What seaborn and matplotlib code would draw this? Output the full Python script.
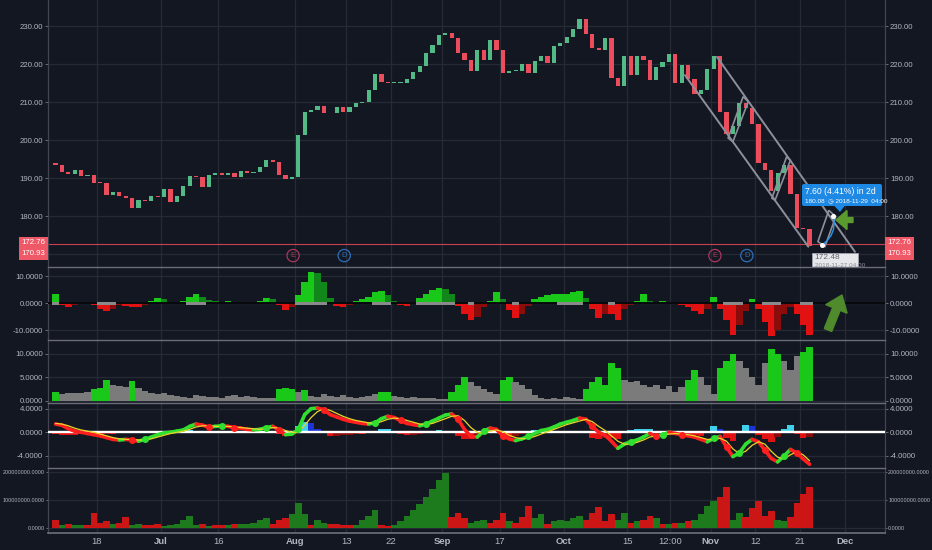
import numpy as np
import pandas as pd
import matplotlib
matplotlib.use('Agg')
import matplotlib.pyplot as plt
import matplotlib.transforms as mtransforms
from matplotlib.collections import LineCollection
from matplotlib.patches import Rectangle, Polygon, FancyArrow, FancyBboxPatch
from matplotlib.ticker import FuncFormatter
import seaborn as sns

# trading days (hourly chart shown as one bar per session)
holidays = pd.to_datetime(['2018-07-04', '2018-09-03', '2018-11-22'])
days = pd.bdate_range('2018-06-07', '2018-12-07')
days = days[~days.isin(holidays)]

# daily closes
closes = [193.46, 191.70, 191.23, 192.28, 190.70, 190.80, 188.84,
          188.74, 185.69, 186.50, 185.46, 184.92,
          182.17, 184.43, 184.16, 185.50, 185.11,
          187.18, 183.92, 185.40, 187.97,
          190.58, 190.35, 187.88, 191.03, 191.33,
          190.91, 191.45, 190.40, 191.88, 191.44,
          191.61, 193.00, 194.82, 194.21, 190.98,
          189.91, 190.29,
          201.50, 207.39, 207.99,
          209.07, 207.11, 207.25, 208.88, 207.53,
          208.87, 209.75, 210.24, 213.32, 217.58,
          215.46, 215.04, 215.05, 215.19, 216.16,
          217.94, 219.70, 222.98, 225.03, 227.63,
          228.36, 226.87, 223.10, 221.30,
          218.33, 223.85, 221.07, 226.41, 223.84,
          217.88, 218.24, 218.37, 220.03, 217.66,
          220.79, 222.19, 220.42, 224.95, 225.74,
          227.26, 229.28, 232.07, 227.99, 224.29,
          223.77, 226.87, 216.36, 214.45, 222.11,
          217.36, 222.15, 221.19, 216.02, 219.31,
          220.65, 222.73, 215.09, 219.80, 216.30,
          212.24, 213.30, 218.86,
          222.22, 207.48,
          201.59, 203.77, 209.95, 208.49, 204.47,
          194.17, 192.23, 186.80, 191.41, 193.53,
          185.86, 176.98, 176.78, 172.29]
first_open = 194.10

# pane 2 oscillator
osc = [3.5, -0.5, -1.5, -0.5, 0.0, 0.0, -0.8, -2.0, -3.0, -2.0,
       -0.5, -1.0, -1.5, -1.5, -0.5, 1.0, 1.8, 1.5, 0.0, 0.0,
       1.0, 2.5, 3.5, 2.5, 1.2, 1.0, 0.3, 0.7, 0.2, 0.0,
       0.3, 0.0, 1.0, 1.8, 1.5, -0.5, -2.5, -1.5, 3.0, 8.0,
       11.5, 11.0, 8.0, 2.0, -1.0, -1.5, -0.5, 0.8, 1.5, 2.5,
       4.0, 4.5, 3.0, 0.8, -0.8, -1.0, 0.5, 2.0, 3.5, 4.8,
       5.5, 5.3, 3.5, -1.0, -4.0, -6.2, -5.0, -1.5, 1.0, 4.0,
       1.5, -2.5, -5.3, -4.0, -1.0, 1.5, 2.5, 3.0, 3.5, 3.5,
       3.5, 4.0, 4.5, 2.0, -2.0, -5.5, -4.0, -4.0, -6.0, -2.0,
       -0.5, 1.0, 3.5, 1.0, 0.3, 0.8, 0.5, 0.3, -0.5, -1.5,
       -3.0, -4.0, -2.0, 2.5, -2.0, -6.0, -11.5, -8.0, -3.0, 1.5,
       -2.0, -7.0, -12.0, -10.0, -4.0, -1.5, -4.0, -8.0, -11.5]
squeeze_days = [0, 7, 8, 9, 21, 22, 23, 38, 39, 40, 41, 42, 50, 51, 52,
                57, 58, 59, 60, 61, 62, 65, 72, 79, 80, 81, 82, 87,
                105, 106, 107, 111, 112, 113, 117, 118]

# pane 3 bars
strength = [2.0, 1.5, 1.8, 1.6, 1.8, 2.0, 2.5, 2.8, 4.5, 3.5,
            3.2, 3.0, 4.2, 2.8, 2.2, 1.8, 1.5, 1.6, 1.2, 1.0,
            0.8, 0.6, 1.2, 1.0, 0.8, 0.9, 0.7, 1.0, 1.3, 0.9,
            1.0, 0.8, 0.6, 0.7, 0.6, 2.5, 2.8, 2.6, 2.0, 2.3,
            1.0, 0.8, 1.5, 1.0, 0.9, 1.2, 0.8, 0.6, 0.9, 1.0,
            1.4, 2.0, 2.0, 1.0, 0.8, 0.6, 0.8, 0.6, 0.7, 0.6,
            0.5, 0.4, 2.0, 3.5, 5.0, 4.0, 3.2, 2.5, 2.0, 1.5,
            4.5, 5.0, 4.0, 3.5, 2.5, 1.2, 0.6, 0.5, 0.7, 0.5,
            0.8, 0.6, 0.5, 2.5, 4.0, 5.0, 3.5, 8.0, 7.0, 4.5,
            4.0, 4.2, 3.5, 3.0, 3.5, 2.5, 3.2, 2.0, 3.0, 4.5,
            6.5, 5.0, 3.5, 1.5, 7.0, 8.5, 10.0, 8.5, 7.0, 5.0,
            3.5, 8.0, 11.0, 10.0, 8.5, 6.5, 9.5, 10.5, 11.5]
strength_green = [0, 6, 7, 8, 12, 35, 36, 37, 39, 51, 52, 62, 63, 64, 70, 71,
                  83, 84, 85, 86, 87, 88, 99, 100, 104, 105, 106, 112, 113, 117, 118]

# pane 4 macd / signal / histogram
macd = [1.4, 1.2, 0.6, 0.2, 0.0, -0.2, -0.4, -0.6, -0.9, -1.2,
        -1.3, -1.2, -1.3, -1.5, -1.2, -0.8, -0.4, -0.1, 0.0, 0.2,
        0.4, 1.0, 1.4, 1.2, 0.9, 1.0, 1.1, 1.0, 0.8, 0.7,
        0.5, 0.4, 0.5, 0.8, 1.0, 0.4, -0.4, -0.3, 0.5, 3.0,
        4.0, 4.1, 3.8, 3.0, 2.6, 2.2, 1.9, 1.7, 1.5, 1.4,
        1.6, 2.3, 2.7, 2.5, 2.0, 1.5, 1.3, 1.1, 1.4, 1.9,
        2.4, 2.9, 3.1, 2.2, 0.5, -0.7, -0.8, 0.2, 0.7, 0.5,
        -0.6, -1.1, -1.4, -1.1, -0.7, -0.2, 0.3, 0.5, 0.9, 1.4,
        1.7, 2.0, 2.4, 2.2, 1.0, 0.0, -0.5, -1.5, -2.7, -2.0,
        -1.6, -1.3, -0.8, -0.2, -0.7, -0.4, 0.0, -0.2, -0.4, -0.6,
        -0.8, -1.2, -1.6, -1.0, -0.7, -2.5, -4.1, -3.5, -2.0, -1.2,
        -1.6, -3.0, -4.4, -5.0, -4.0, -2.9, -3.5, -4.5, -5.4]
signal = [1.5, 1.4, 1.1, 0.7, 0.4, 0.2, 0.0, -0.3, -0.6, -0.9,
          -1.1, -1.2, -1.2, -1.3, -1.3, -1.1, -0.8, -0.5, -0.2, 0.0,
          0.2, 0.5, 0.9, 1.1, 1.1, 1.0, 1.0, 1.0, 0.9, 0.8,
          0.7, 0.6, 0.5, 0.6, 0.8, 0.7, 0.3, 0.0, 0.0, 1.2,
          2.5, 3.5, 4.0, 3.7, 3.2, 2.7, 2.3, 2.0, 1.8, 1.6,
          1.5, 1.8, 2.2, 2.4, 2.3, 2.0, 1.7, 1.4, 1.3, 1.5,
          1.9, 2.3, 2.7, 2.8, 2.0, 0.8, 0.0, -0.2, 0.2, 0.4,
          0.1, -0.5, -0.9, -1.1, -1.0, -0.7, -0.3, 0.1, 0.5, 0.9,
          1.3, 1.6, 1.9, 2.2, 1.8, 1.0, 0.3, -0.6, -1.5, -2.0,
          -2.0, -1.7, -1.3, -0.8, -0.6, -0.5, -0.3, -0.2, -0.3, -0.4,
          -0.6, -0.9, -1.2, -1.3, -1.0, -1.5, -2.8, -3.6, -3.2, -2.2,
          -1.6, -2.0, -3.2, -4.2, -4.5, -3.8, -3.3, -3.8, -4.8]
hist = [-0.3, -0.5, -0.5, -0.5, -0.3, -0.3, -0.3, -0.4, -0.3, -0.3,
        -0.2, 0.0, -0.1, 0.1, 0.3, 0.3, 0.3, 0.3, 0.2, 0.2,
        0.4, 0.4, 0.3, 0.0, -0.2, 0.0, 0.1, 0.0, -0.1, -0.1,
        -0.2, -0.2, 0.0, 0.2, 0.2, -0.3, -0.6, -0.4, 1.0, 1.8,
        1.5, 0.6, -0.2, -0.7, -0.6, -0.5, -0.4, -0.3, -0.3, -0.2,
        0.1, 0.5, 0.5, 0.1, -0.3, -0.5, -0.4, -0.3, 0.1, 0.3,
        0.4, 0.3, 0.2, -0.6, -1.2, -1.2, -0.8, 0.3, 0.7, 0.3,
        -0.6, -0.8, -0.7, -0.3, 0.2, 0.4, 0.4, 0.3, 0.3, 0.3,
        0.3, 0.3, 0.3, -0.2, -0.9, -1.2, -1.0, -1.0, -1.2, 0.0,
        0.4, 0.5, 0.5, 0.6, -0.2, 0.0, 0.2, 0.0, -0.2, -0.3,
        -0.5, -0.6, 0.3, 1.0, 0.5, -0.9, -1.5, 0.3, 1.3, 1.0,
        -0.5, -1.2, -1.6, -0.8, 0.5, 1.2, -0.3, -1.0, -0.8]

# pane 5 volume (millions) and bar direction
volume_m = [30, 10, 15, 10, 12, 12, 55, 20, 25, 15,
            20, 40, 10, 15, 10, 12, 15, 8, 10, 15,
            30, 45, 10, 15, 8, 10, 12, 12, 15, 15,
            15, 20, 30, 35, 15, 30, 35, 50, 90, 50,
            12, 30, 20, 15, 15, 12, 10, 10, 30, 45,
            65, 10, 8, 10, 25, 45, 65, 85, 110, 140,
            170, 195, 40, 55, 35, 20, 25, 30, 20, 30,
            55, 25, 20, 40, 80, 35, 50, 15, 25, 30,
            25, 35, 45, 30, 55, 75, 25, 50, 30, 55,
            20, 25, 30, 45, 35, 15, 15, 20, 20, 25,
            30, 50, 80, 95, 110, 145, 30, 55, 40, 70,
            95, 45, 60, 30, 25, 40, 90, 120, 145]
volume_dir = ('RGRGGRRRRG' 'RRGGRRRGGG' 'GGGRGRRGRG' 'GGGGRRRGGG'
              'RGGRRRRGGG' 'GRRGGGGGGG' 'GGRRRGGGRR' 'RGRRRGGRGG'
              'GGGRRRRRGG' 'RGRRGRGRGR' 'GGGGRRGGRR' 'RRRGGRRRR')

tick_dates = ['2018-06-18', '2018-07-02', '2018-07-16', '2018-08-01', '2018-08-13',
              '2018-08-22', '2018-09-04', '2018-09-17', '2018-10-01', '2018-10-15',
              '2018-10-23', '2018-11-01', '2018-11-12', '2018-11-21', '2018-12-03']
tick_labels = ['18', 'Jul', '16', 'Aug', '13', '22', 'Sep', '17', 'Oct', '15',
               '12:00', 'Nov', '12', '21', 'Dec']
events = [('2018-07-31', 'E'), ('2018-08-10', 'D'), ('2018-11-01', 'E'), ('2018-11-08', 'D')]

BG = '#131722'
GRID = '#262a35'
TXT = '#b2b5be'
sns.set_theme(style='dark', rc={'axes.facecolor': BG, 'figure.facecolor': BG})
plt.rcParams['font.family'] = ['Liberation Sans', 'DejaVu Sans']

n = len(closes)
xc = np.arange(n) + 0.5
closes = np.array(closes)
opens = np.concatenate([[first_open], closes[:-1]])
osc = np.array(osc)
macd = np.array(macd)
signal = np.array(signal)
hist = np.array(hist)
volume = np.array(volume_m) * 1e6

tick_pos = []
for d, lab in zip(tick_dates, tick_labels):
    p = days.get_loc(pd.Timestamp(d))
    tick_pos.append(p + 0.67 if lab == '12:00' else p)

fig = plt.figure(figsize=(9.32, 5.5), dpi=100)


def pane(top, bottom):
    return fig.add_axes([48 / 932, 1 - bottom / 550, 837 / 932, (bottom - top) / 550])


ax1 = pane(0, 266.5)
ax2 = pane(266.5, 340)
ax3 = pane(340, 403)
ax4 = pane(403, 468)
ax5 = pane(468, 533)
axes = [ax1, ax2, ax3, ax4, ax5]

for ax in axes:
    ax.set_facecolor(BG)
    ax.set_xlim(-0.67, 130.3)
    ax.set_xticks(tick_pos)
    ax.grid(True, color=GRID, lw=0.9)
    ax.set_axisbelow(True)
    ax.tick_params(axis='y', labelleft=True, labelright=True, left=True, right=True,
                   length=2, width=0.6, color='#787b86', labelsize=5.6, labelcolor=TXT, pad=1.5)
    ax.tick_params(axis='x', length=0, labelbottom=False)
    for s in ['left', 'right']:
        ax.spines[s].set_color('#434651')
        ax.spines[s].set_linewidth(0.9)
    ax.spines['top'].set_color('#6a6d78')
    ax.spines['top'].set_linewidth(1.0)
    ax.spines['bottom'].set_visible(False)
ax1.spines['top'].set_visible(False)

# ---- price pane
ax1.set_ylim(166.84, 236.97)
ax1.set_yticks(np.arange(170, 231, 10))
ax1.yaxis.set_major_formatter(FuncFormatter(lambda v, p: '' if v < 175 else f'{v:.2f}'))
up = closes >= opens
body = np.maximum(np.abs(closes - opens), 0.25)
ax1.bar(xc, body, bottom=np.minimum(opens, closes), width=0.66,
        color=np.where(up, '#53b987', '#eb4d5c'), linewidth=0, zorder=3)
ax1.axhline(172.76, color='#c9404f', lw=0.8, zorder=2)

tr = mtransforms.blended_transform_factory(ax1.transAxes, ax1.transData)
for val, ypos in [(172.76, 173.05), (170.93, 170.2)]:
    for xa, ha in [(-0.003, 'right'), (1.003, 'left')]:
        ax1.text(xa, ypos, f'{val:.2f}', transform=tr, ha=ha, va='center', fontsize=5.6,
                 color='white', clip_on=False,
                 bbox=dict(boxstyle='square,pad=0.3', fc='#ef5867', ec='none'))

tr_ev = mtransforms.blended_transform_factory(ax1.transData, ax1.transAxes)
for d, letter in events:
    xe = days.get_loc(pd.Timestamp(d)) + 0.68
    col = '#a8385c' if letter == 'E' else '#2d6fb8'
    ax1.scatter([xe], [0.041], transform=tr_ev, s=78, facecolors='none',
                edgecolors=col, linewidths=0.9, zorder=5)
    ax1.text(xe, 0.041, letter, transform=tr_ev, ha='center', va='center',
             fontsize=5.5, color=col, zorder=5)

# channel drawings
chan = '#8e9099'
ax1.plot([104.0, 125.6], [222.0, 170.7], color=chan, lw=1.4, zorder=4)
ax1.plot([99.0, 118.3], [217.2, 172.05], color=chan, lw=1.4, zorder=4)
for poly in [[(105.75, 200.66), (108.1, 211.53), (108.9, 210.21), (106.5, 199.68)],
             [(112.6, 184.8), (114.9, 195.7), (115.5, 194.8), (113.1, 184.3)],
             [(119.8, 173.4), (121.5, 181.6), (122.6, 180.0), (120.9, 172.1)]]:
    ax1.add_patch(Polygon(poly, closed=True, fill=False, ec=chan, lw=1.2, zorder=4))
ax1.annotate('', xy=(122.2, 180.1), xytext=(120.4, 172.5),
             arrowprops=dict(arrowstyle='-', connectionstyle='arc3,rad=0.35',
                             color='#2196f3', lw=1.0), zorder=6)
ax1.plot([120.4, 122.2], [172.5, 180.1], 'o', color='white', ms=2.6, zorder=7)
ax1.add_patch(Rectangle((118.9, 160.0), 7.1, 10.4, fc='#e6e7ea', ec='#a0a3ab', lw=0.6, zorder=6))
ax1.text(119.3, 169.2, '172.48', fontsize=6, color='#606370', va='center', zorder=7, clip_on=True)
ax1.text(119.3, 167.0, '2018-11-27 04:00', fontsize=4.6, color='#8a8d96', va='center',
         zorder=7, clip_on=True)

ident = mtransforms.IdentityTransform()
fig.add_artist(FancyBboxPatch((802, 344), 80, 22, boxstyle='round,pad=0,rounding_size=2',
                              transform=ident, fc='#1e88e5', ec='none'))
fig.add_artist(Polygon([(834, 344.5), (845, 344.5), (840, 338)], closed=True,
                       transform=ident, fc='#1e88e5', ec='none'))
fig.text(805, 550 - 192, '7.60 (4.41%) in 2d', transform=ident, fontsize=6.2,
         color='white', va='center')
fig.text(805, 550 - 201, '180.08  \u25f7 2018-11-29  04:00', transform=ident, fontsize=4.6,
         color='white', va='center')
fig.add_artist(FancyArrow(853, 330, -17, 0, width=5, head_width=19, head_length=11,
                          length_includes_head=True, transform=ident, color='#5a9a2e'))

# ---- oscillator pane
ax2.set_ylim(-13.5, 13.55)
ax2.set_yticks([-10, 0, 10])
ax2.yaxis.set_major_formatter(FuncFormatter(lambda v, p: f'{v:.4f}'))
prev = np.concatenate([[osc[0]], osc[:-1]])
osc_col = np.where(osc >= 0, np.where(osc >= prev, '#19c819', '#11861a'),
                   np.where(osc <= prev, '#e31212', '#8c0b0b'))
ax2.bar(xc, osc, width=1.03, color=osc_col, linewidth=0, zorder=3)
ax2.axhline(0, color='#08090c', lw=1.4, zorder=4)
ax2.bar(xc[squeeze_days], 1.1, bottom=-0.55, width=1.03, color='#8a8a8a', linewidth=0, zorder=5)
fig.add_artist(FancyArrow(828, 220, 14, 35, width=8, head_width=23, head_length=15,
                          length_includes_head=True, transform=ident, color='#4f8a2c'))

# ---- strength pane
ax3.set_ylim(-0.43, 12.98)
ax3.set_yticks([0, 5, 10])
ax3.yaxis.set_major_formatter(FuncFormatter(lambda v, p: f'{v:.4f}'))
s_col = np.array(['#7b7b7b'] * n, dtype=object)
s_col[strength_green] = '#19c819'
ax3.bar(xc, strength, width=1.03, color=list(s_col), linewidth=0, zorder=3)

# ---- macd pane
ax4.set_ylim(-6.03, 4.95)
ax4.set_yticks([-4, 0, 4])
ax4.yaxis.set_major_formatter(FuncFormatter(lambda v, p: f'{v:.4f}'))
hprev = np.concatenate([[hist[0]], hist[:-1]])
h_col = np.where(hist >= 0, np.where(hist >= hprev, '#3fd0ea', '#1c33d6'),
                 np.where(hist <= hprev, '#e31212', '#8c0b0b'))
ax4.bar(xc, hist, width=1.03, color=h_col, linewidth=0, zorder=3)
ax4.axhline(0, color='white', lw=1.7, zorder=4)
segs = [[(xc[i], macd[i]), (xc[i + 1], macd[i + 1])] for i in range(n - 1)]
seg_col = ['#2fe02f' if macd[i + 1] >= macd[i] else '#ff1f1f' for i in range(n - 1)]
ax4.add_collection(LineCollection(segs, colors=seg_col, linewidths=2.6, capstyle='round', zorder=5))
sns.lineplot(x=xc, y=signal, ax=ax4, color='#e8d42a', lw=0.9, zorder=6, legend=False)
diff = macd - signal
for i in range(1, n):
    if np.sign(diff[i]) != np.sign(diff[i - 1]) and diff[i] != 0:
        ax4.plot(xc[i], macd[i], 'o', ms=4, zorder=7,
                 color='#2fe02f' if diff[i] > 0 else '#ff1f1f')
ax4.set_ylabel('')

# ---- volume pane
ax5.set_ylim(-16.6e6, 213e6)
ax5.set_yticks([0, 1e8, 2e8])
ax5.yaxis.set_major_formatter(FuncFormatter(lambda v, p: f'{v:.4f}'))
ax5.tick_params(axis='y', labelsize=3.9, pad=0.8, length=1.5)
v_col = ['#1d7a1d' if c == 'G' else '#cc1515' for c in volume_dir]
ax5.bar(xc, volume, width=1.03, color=v_col, linewidth=0, zorder=3)
ax5.spines['bottom'].set_visible(True)
ax5.spines['bottom'].set_color('#6a6d78')
ax5.tick_params(axis='x', labelbottom=True, labelsize=6.8, labelcolor=TXT, pad=3)
ax5.set_xticklabels(tick_labels)
for lab in ax5.get_xticklabels():
    if lab.get_text() in ['Jul', 'Aug', 'Sep', 'Oct', 'Nov', 'Dec']:
        lab.set_fontweight('bold')

fig.savefig('out.png', dpi=100, facecolor=BG)
